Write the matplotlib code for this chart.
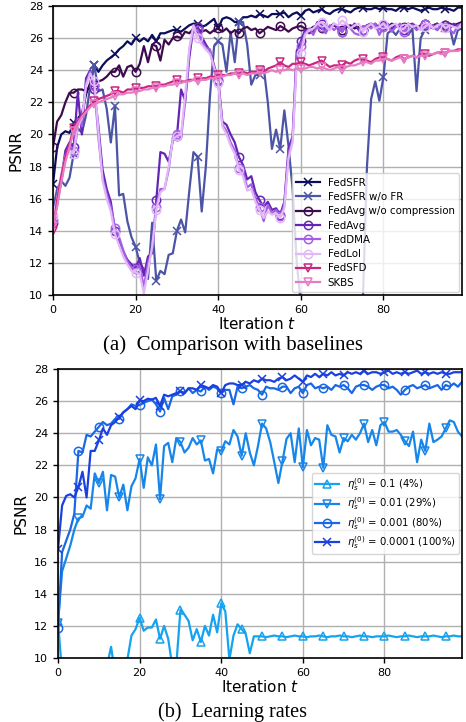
import numpy as np
import matplotlib
matplotlib.use("Agg")
import matplotlib.pyplot as plt

# ---------------- data: (a) comparison with baselines ----------------
iterations = list(range(100))

fedsfr = [16.9, 19.2, 20.0, 20.2, 20.1, 20.7, 21.0, 21.3, 22.5, 23.2,
          24.3, 23.9, 24.3, 24.6, 24.8, 25.0, 25.3, 25.5, 25.8, 25.6,
          26.0, 25.8, 26.0, 25.8, 26.2, 25.8, 26.3, 26.3, 26.4, 26.5,
          26.5, 26.4, 26.6, 26.8, 26.9, 26.9, 26.7, 26.8, 27.0, 27.2,
          26.6, 27.2, 27.3, 27.2, 27.0, 27.0, 27.3, 27.3, 27.4, 27.3,
          27.5, 27.4, 27.3, 27.5, 27.5, 27.5, 27.6, 27.3, 27.5, 27.6,
          27.4, 27.7, 27.8, 27.6, 27.7, 27.8, 27.6, 27.5, 27.7, 27.8,
          27.8, 27.7, 27.6, 27.8, 27.9, 27.9, 27.8, 27.8, 27.9, 27.8,
          27.9, 27.8, 27.8, 27.7, 27.9, 27.9, 27.8, 27.9, 27.8, 27.7,
          27.8, 27.9, 27.8, 27.8, 27.9, 27.8, 27.8, 27.7, 27.9, 27.9]

fedsfr_wo_fr = [15.3, 16.6, 17.1, 16.8, 17.3, 18.8, 20.4, 20.1, 21.2, 23.0,
                24.3, 22.7, 22.8, 21.6, 19.5, 21.8, 16.2, 16.3, 14.6, 13.6,
                13.0, 12.0, 11.6, 11.0, 14.5, 10.9, 11.5, 11.3, 12.5, 12.6,
                14.0, 14.7, 13.9, 16.5, 18.9, 18.6, 15.2, 18.0, 22.4, 25.5,
                25.8, 25.6, 23.9, 26.4, 24.5, 27.0, 27.0, 25.6, 23.1, 23.7,
                23.7, 24.2, 22.0, 19.1, 20.3, 19.1, 21.5, 19.3, 16.6, 12.0,
                9.5, 9.3, 9.6, 9.2, 9.4, 9.5, 9.3, 9.6, 9.4, 9.2,
                9.5, 9.4, 9.6, 9.3, 9.5, 9.6, 18.0, 22.2, 23.3, 22.1,
                23.6, 26.3, 26.5, 26.2, 26.6, 26.5, 26.2, 26.6, 22.7, 26.0,
                26.5, 26.6, 26.7, 26.5, 26.8, 26.6, 26.7, 25.6, 26.5, 26.6]

fedavg_wo_comp = [19.2, 20.8, 21.2, 22.0, 22.6, 22.6, 22.8, 22.8, 22.7, 23.0,
                  23.1, 23.3, 23.4, 23.6, 23.9, 23.9, 24.3, 23.6, 24.2, 24.3,
                  23.9, 24.4, 25.5, 24.5, 25.6, 25.5, 24.6, 25.9, 25.6, 26.0,
                  26.1, 26.0, 26.4, 26.3, 26.6, 26.6, 26.4, 26.5, 26.3, 26.5,
                  26.6, 26.4, 26.6, 26.3, 26.5, 26.3, 26.6, 26.7, 26.5, 26.6,
                  26.3, 26.5, 26.7, 26.6, 26.5, 26.75, 26.6, 26.4, 26.6, 26.7,
                  26.75, 26.6, 26.5, 26.7, 26.8, 26.6, 26.5, 26.7, 26.8, 26.6,
                  26.5, 26.7, 26.8, 26.6, 26.7, 26.5, 26.8, 26.9, 26.7, 26.6,
                  26.8, 26.7, 26.9, 26.8, 26.6, 26.7, 26.9, 26.8, 26.6, 26.8,
                  26.9, 26.7, 26.8, 26.9, 26.7, 26.8, 26.9, 26.8, 26.9, 27.0]

fedavg = [14.5, 15.6, 17.2, 19.0, 19.5, 19.2, 22.6, 20.0, 23.5, 24.0,
          22.8, 20.5, 17.8, 16.6, 15.8, 14.0, 13.4, 12.7, 12.2, 11.9,
          11.7, 12.3, 11.2, 12.4, 12.6, 15.9, 18.9, 18.8, 18.3, 19.6,
          19.9, 22.8, 22.1, 24.8, 26.7, 26.7, 26.1, 25.6, 25.2, 24.3,
          23.4, 20.8, 20.6, 20.0, 19.5, 18.6, 18.1, 17.2, 17.4, 16.4,
          15.9, 15.5, 15.8, 15.3, 15.4, 15.0, 15.8, 19.1, 19.9, 25.2,
          25.8, 26.5, 26.3, 26.4, 27.0, 26.9, 26.5, 26.7, 26.9, 26.6,
          26.4, 26.8, 26.6, 26.9, 26.5, 26.5, 26.8, 26.7, 26.9, 26.6,
          26.8, 26.9, 26.6, 26.8, 26.7, 26.5, 26.8, 26.9, 26.7, 26.6,
          26.9, 26.8, 26.6, 26.9, 26.7, 26.8, 26.6, 26.9, 26.7, 26.9]

feddma = [14.7, 15.9, 17.0, 18.7, 19.3, 19.0, 21.0, 20.5, 23.2, 23.9,
          23.0, 19.8, 17.3, 16.3, 15.5, 14.2, 13.6, 12.8, 12.1, 11.7,
          11.6, 11.8, 10.5, 12.0, 12.8, 15.5, 16.6, 16.6, 17.8, 19.8,
          20.0, 19.8, 22.0, 25.2, 26.6, 26.5, 25.8, 25.4, 25.3, 24.0,
          23.3, 20.6, 20.2, 19.5, 19.0, 17.9, 17.7, 16.7, 16.9, 16.0,
          15.5, 14.6, 15.6, 15.1, 15.3, 14.9, 15.6, 18.8, 19.7, 24.9,
          25.5, 26.3, 26.6, 26.2, 26.8, 26.7, 26.3, 26.8, 26.5, 26.7,
          26.4, 26.9, 26.6, 26.3, 26.2, 26.5, 26.8, 26.6, 26.9, 26.2,
          26.7, 26.8, 26.4, 26.7, 26.9, 26.4, 26.6, 26.8, 26.5, 26.7,
          26.9, 26.6, 26.8, 26.5, 26.9, 26.7, 26.5, 26.3, 26.8, 26.9]

fedlol = [14.9, 16.0, 17.5, 18.6, 19.0, 18.8, 20.5, 21.0, 23.0, 23.8,
          23.3, 20.2, 17.1, 16.0, 15.2, 13.8, 13.1, 12.4, 11.9, 11.5,
          11.4, 11.3, 10.1, 11.5, 13.0, 15.3, 16.4, 16.6, 18.0, 19.7,
          19.9, 20.0, 22.5, 25.4, 26.8, 26.0, 25.6, 25.3, 25.0, 24.2,
          23.2, 20.5, 20.0, 19.3, 18.8, 17.8, 17.4, 16.5, 16.6, 15.8,
          15.3, 14.8, 15.2, 15.0, 15.1, 14.8, 15.4, 18.5, 19.5, 24.5,
          25.1, 26.2, 26.5, 26.6, 26.9, 27.0, 26.7, 26.5, 26.9, 26.8,
          27.1, 26.9, 26.6, 26.8, 26.9, 26.4, 26.7, 26.9, 26.6, 26.7,
          26.9, 26.6, 26.8, 26.9, 26.5, 26.6, 26.9, 26.7, 26.8, 26.5,
          26.7, 26.9, 26.6, 26.8, 26.9, 26.6, 26.8, 26.7, 26.6, 26.9]

fedsfd = [14.0, 15.9, 17.4, 18.6, 19.4, 20.4, 20.8, 21.2, 21.5, 21.8,
          22.1, 22.2, 22.3, 22.4, 22.5, 22.7, 22.7, 22.6, 22.8, 22.8,
          22.9, 22.9, 22.9, 23.0, 23.0, 23.0, 23.1, 23.1, 23.2, 23.3,
          23.4, 23.3, 23.3, 23.4, 23.4, 23.5, 23.5, 23.5, 23.6, 23.6,
          23.7, 23.7, 23.7, 23.8, 23.8, 23.8, 23.9, 23.8, 23.9, 23.9,
          24.0, 23.9, 24.1, 24.2, 24.3, 24.5, 24.3, 24.2, 24.4, 24.4,
          24.5, 24.4, 24.3, 24.4, 24.5, 24.6, 24.4, 24.2, 24.3, 24.3,
          24.3, 24.5, 24.4, 24.6, 24.7, 24.7, 24.6, 24.5, 24.7, 24.8,
          24.8, 24.7, 24.6, 24.8, 24.9, 24.7, 24.8, 24.9, 24.8, 25.0,
          25.0, 24.9, 25.0, 25.1, 25.1, 25.1, 25.2, 25.2, 25.3, 25.3]

skbs = [14.3, 15.5, 17.0, 18.3, 19.2, 20.2, 20.7, 21.1, 21.4, 21.7,
        21.9, 22.0, 22.1, 22.2, 22.3, 22.4, 22.5, 22.5, 22.6, 22.6,
        22.7, 22.7, 22.8, 22.8, 22.9, 22.9, 23.0, 23.0, 23.1, 23.1,
        23.2, 23.2, 23.3, 23.3, 23.4, 23.3, 23.4, 23.4, 23.5, 23.5,
        23.6, 23.6, 23.7, 23.7, 23.8, 23.7, 23.8, 23.7, 23.8, 23.8,
        23.9, 23.8, 23.9, 24.0, 23.9, 24.0, 24.0, 24.1, 24.0, 24.1,
        24.1, 24.1, 24.2, 24.2, 24.1, 24.2, 24.1, 24.0, 24.1, 24.2,
        24.0, 24.2, 24.3, 24.3, 24.4, 24.5, 24.5, 24.4, 24.6, 24.6,
        24.7, 24.7, 24.6, 24.7, 24.8, 24.7, 24.8, 24.9, 24.8, 24.9,
        24.9, 25.0, 25.0, 25.1, 25.0, 25.1, 25.2, 25.2, 25.2, 25.3]

labels_a = ["FedSFR", "FedSFR w/o FR", "FedAvg w/o compression", "FedAvg",
            "FedDMA", "FedLol", "FedSFD", "SKBS"]

# ---------------- data: (b) learning rates ----------------
lr_01 = [12.3, 9.0, 8.5, 8.3, 8.2, 8.4, 8.3, 8.5, 8.6, 8.8,
         9.0, 9.3, 9.5, 10.7, 9.0, 8.8, 9.2, 9.9, 11.4, 11.8,
         12.5, 11.7, 11.9, 11.9, 12.4, 11.2, 12.0, 11.2, 9.5, 9.6,
         13.0, 12.7, 12.3, 11.1, 11.8, 11.0, 12.0, 11.4, 12.7, 11.6,
         13.4, 12.9, 9.9, 11.4, 12.1, 11.8, 11.5, 10.3, 11.35, 11.35,
         11.35, 11.3, 11.35, 11.4, 11.35, 11.35, 11.3, 11.35, 11.4, 11.35,
         11.35, 11.3, 11.35, 11.35, 11.4, 11.35, 11.3, 11.35, 11.35, 11.4,
         11.35, 11.35, 11.3, 11.35, 11.4, 11.35, 11.35, 11.3, 11.35, 11.35,
         11.35, 11.4, 11.35, 11.3, 11.35, 11.35, 11.4, 11.35, 11.3, 11.35,
         11.35, 11.35, 11.4, 11.35, 11.3, 11.35, 11.35, 11.4, 11.35, 11.35]

lr_001 = [12.2, 15.4, 16.2, 17.0, 18.0, 18.7, 18.8, 19.5, 19.3, 21.5,
          20.9, 21.6, 19.2, 21.4, 21.3, 20.0, 20.8, 19.2, 20.7, 21.2,
          22.4, 20.6, 22.5, 22.0, 23.3, 19.9, 23.2, 23.4, 22.2, 23.7,
          23.45, 22.8, 23.1, 23.7, 23.3, 23.55, 22.3, 22.4, 21.5, 23.0,
          22.9, 23.5, 23.3, 24.2, 23.8, 22.6, 24.0, 22.8, 22.0, 23.2,
          24.6, 24.3, 23.45, 22.2, 20.9, 22.25, 23.65, 24.0, 22.2, 24.3,
          21.9, 24.2, 23.25, 23.7, 23.6, 21.85, 24.5, 23.9, 23.8, 22.8,
          23.7, 23.5, 23.9, 23.6, 24.0, 24.6, 23.45, 24.2, 23.25, 24.5,
          24.7, 24.1, 24.1, 24.2, 23.9, 23.5, 23.2, 24.1, 22.2, 23.6,
          22.9, 24.6, 23.45, 23.6, 23.8, 24.3, 24.8, 24.7, 24.1, 23.8]

lr_0001 = [11.9, 16.6, 17.3, 18.0, 19.0, 22.9, 22.8, 23.9, 23.8, 24.1,
           24.4, 24.7, 24.5, 24.6, 24.9, 24.9, 25.3, 25.5, 25.8, 25.7,
           25.75, 25.9, 26.0, 26.1, 25.8, 25.35, 26.2, 25.5, 26.3, 26.4,
           26.6, 26.5, 26.8, 26.5, 26.7, 26.6, 26.9, 26.7, 26.9, 26.8,
           26.5, 26.7, 26.7, 25.8, 26.9, 26.8, 26.9, 27.0, 26.8, 26.7,
           26.4, 26.9, 26.8, 26.8, 26.7, 26.9, 26.9, 26.5, 26.8, 26.9,
           26.5, 27.0, 27.1, 26.8, 26.9, 26.8, 26.9, 26.7, 27.0, 26.9,
           27.0, 26.8, 26.5, 26.9, 27.0, 27.0, 26.9, 26.7, 26.9, 27.0,
           27.0, 26.8, 26.9, 26.7, 26.4, 26.7, 26.9, 27.0, 26.8, 26.9,
           27.0, 26.8, 26.9, 27.0, 26.7, 27.0, 26.9, 27.1, 26.9, 27.2]

lr_00001 = [16.8, 19.5, 20.1, 20.2, 20.0, 20.65, 21.6, 20.0, 22.9, 22.9,
            23.55, 24.3, 23.9, 24.5, 24.7, 25.0, 25.3, 25.5, 25.7, 25.5,
            26.05, 26.0, 26.15, 26.1, 26.2, 25.7, 26.4, 26.3, 26.4, 26.5,
            26.6, 26.5, 26.8, 26.8, 26.7, 27.0, 26.9, 26.8, 27.0, 26.9,
            26.5, 27.0, 27.1, 27.1, 27.0, 27.0, 27.2, 27.1, 27.3, 27.2,
            27.4, 27.3, 27.3, 27.2, 27.4, 27.5, 27.3, 27.4, 27.6, 27.4,
            27.2, 27.6, 27.5, 27.7, 27.5, 27.7, 27.6, 27.8, 27.6, 27.7,
            27.6, 27.8, 27.7, 27.8, 27.7, 27.9, 27.7, 27.8, 27.8, 27.7,
            27.8, 27.9, 27.7, 27.8, 27.7, 27.8, 27.7, 27.8, 27.9, 27.7,
            27.8, 27.7, 27.8, 27.7, 27.8, 27.7, 27.7, 27.8, 27.8, 27.8]

labels_b = [r"$\eta_s^{(0)}$ = 0.1 (4%)", r"$\eta_s^{(0)}$ = 0.01 (29%)",
            r"$\eta_s^{(0)}$ = 0.001 (80%)", r"$\eta_s^{(0)}$ = 0.0001 (100%)"]

xticks = [0, 20, 40, 60, 80]
yticks = [10, 12, 14, 16, 18, 20, 22, 24, 26, 28]

# ---------------- styles ----------------
colors_a = ["#0c0c5c", "#4b54a6", "#3d0b4d", "#6425b5",
            "#a45ee5", "#e3b8f8", "#c9267f", "#e77cc4"]
markers_a = ["x", "x", "o", "o", "o", "o", "v", "v"]
colors_b = ["#14a3f0", "#1786ea", "#1968e5", "#1a40e0"]
markers_b = ["^", "v", "o", "x"]

fig = plt.figure(figsize=(4.66, 7.22), dpi=100)


def style_axes(ax):
    ax.set_xlim(0, 99)
    ax.set_ylim(10, 28)
    ax.set_xticks(xticks)
    ax.set_yticks(yticks)
    ax.tick_params(labelsize=8, length=3.5, width=1)
    ax.grid(True, color="#b0b0b0", linewidth=1.0)
    ax.set_axisbelow(True)
    for s in ax.spines.values():
        s.set_linewidth(1.2)
    ax.set_xlabel(r"Iteration $t$", fontsize=11, labelpad=1)
    ax.set_ylabel("PSNR", fontsize=11, labelpad=4)


# (a)
ax1 = fig.add_axes([0.1137, 0.5914, 0.8777, 0.4003])
series_a = [fedsfr, fedsfr_wo_fr, fedavg_wo_comp, fedavg, feddma, fedlol, fedsfd, skbs]
for ys, lab, c, m in zip(series_a, labels_a, colors_a, markers_a):
    ax1.plot(iterations, ys, color=c, marker=m, markevery=5, markersize=6,
             markerfacecolor="none", markeredgewidth=1.1, linewidth=1.6, label=lab)
style_axes(ax1)
ax1.legend(loc="lower right", fontsize=7.4, framealpha=0.8, borderaxespad=0.3,
           handlelength=2.3, labelspacing=0.42)

# (b)
ax2 = fig.add_axes([0.1245, 0.0886, 0.8669, 0.4003])
series_b = [lr_01, lr_001, lr_0001, lr_00001]
for ys, lab, c, m in zip(series_b, labels_b, colors_b, markers_b):
    ax2.plot(iterations, ys, color=c, marker=m, markevery=5, markersize=6,
             markerfacecolor="none", markeredgewidth=1.1, linewidth=1.6, label=lab)
style_axes(ax2)
ax2.legend(loc="center right", fontsize=7.3, framealpha=0.8, borderaxespad=0.3,
           handlelength=2.3, labelspacing=0.25, borderpad=0.35)

fig.text(0.5, 1 - 345 / 722, "(a)  Comparison with baselines", ha="center", va="center",
         fontsize=15, family="Liberation Serif")
fig.text(0.5, 1 - 712 / 722, "(b)  Learning rates", ha="center", va="center",
         fontsize=14.5, family="Liberation Serif")

fig.savefig("out.png", dpi=100)
